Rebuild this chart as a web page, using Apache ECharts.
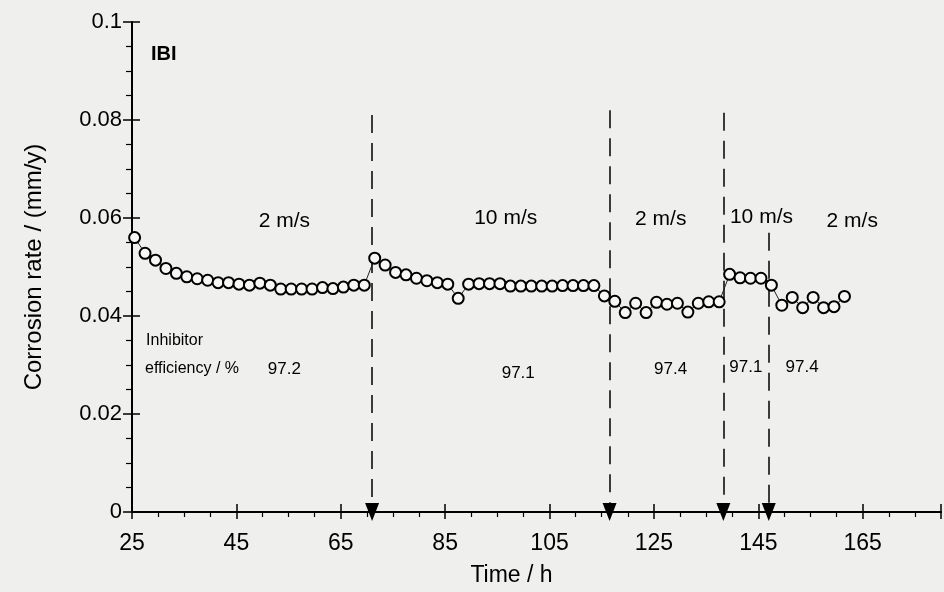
<!DOCTYPE html>
<html>
<head>
<meta charset="utf-8">
<script src="https://cdn.jsdelivr.net/npm/echarts@6/dist/echarts.min.js"></script>
<style>
html,body{margin:0;padding:0;background:#efefed;}
#chart{width:944px;height:592px;}
</style>
</head>
<body>
<div id="chart"></div>
<script>
// ---- data ----
var timeH = [25.5,27.5,29.5,31.5,33.5,35.5,37.5,39.5,41.5,43.5,45.5,47.5,49.5,51.5,53.5,55.5,57.5,59.5,61.5,63.5,65.5,67.5,69.5,
  71.5,73.5,75.5,77.5,79.5,81.5,83.5,85.5,87.5,89.5,91.5,93.5,95.5,97.5,99.5,101.5,103.5,105.5,107.5,109.5,111.5,113.5,115.5,117.5,119.5,
  121.5,123.5,125.5,127.5,129.5,131.5,133.5,135.5,137.5,139.5,141.5,143.5,145.5,147.5,149.5,151.5,153.5,155.5,157.5,159.5,161.5];
var corrosionRate = [0.0560,0.0528,0.0514,0.0497,0.0487,0.0480,0.0476,0.0473,0.0468,0.0468,0.0465,0.0463,0.0467,0.0463,0.0455,0.0455,0.0455,0.0455,0.0458,0.0456,0.0459,0.0463,0.0463,
  0.0518,0.0504,0.0489,0.0484,0.0477,0.0472,0.0468,0.0465,0.0436,0.0465,0.0466,0.0466,0.0466,0.0461,0.0461,0.0461,0.0461,0.0461,0.0462,0.0462,0.0462,0.0462,0.0441,0.0430,0.0407,
  0.0426,0.0407,0.0428,0.0424,0.0426,0.0408,0.0426,0.0429,0.0429,0.0485,0.0478,0.0477,0.0477,0.0463,0.0422,0.0438,0.0417,0.0438,0.0417,0.0419,0.0440];

// flow-velocity changes (h) and the top of each dashed marker line
var changeTimes = [71, 116.5, 138.3, 147];
var changeTops = [0.081, 0.082, 0.0815, 0.057];

// period labels
var speedLabels = ['2 m/s', '10 m/s', '2 m/s', '10 m/s', '2 m/s'];
var speedLabelT = [54.2, 96.6, 126.3, 145.6, 163];
var speedLabelV = [0.0593, 0.0599, 0.0597, 0.0601, 0.0593];

var efficiencyLabels = ['97.2', '97.1', '97.4', '97.1', '97.4'];
var efficiencyT = [54.2, 99.0, 128.2, 142.6, 153.4];
var efficiencyV = [0.0292, 0.0283, 0.0292, 0.0296, 0.0296];

var xTicks = [25, 45, 65, 85, 105, 125, 145, 165];
var yTicks = [0, 0.02, 0.04, 0.06, 0.08, 0.1];

// ---- chart ----
var FONT = '"Liberation Sans", Arial, Helvetica, sans-serif';
var chart = echarts.init(document.getElementById('chart'));

var points = timeH.map(function (t, i) { return [t, corrosionRate[i]]; });

var markLines = changeTimes.map(function (t, i) {
  return [{ coord: [t, changeTops[i]], symbol: 'none' }, { coord: [t, 0], symbol: 'triangle' }];
});

var annot = [];
speedLabels.forEach(function (s, i) {
  annot.push({ name: s, value: [speedLabelT[i], speedLabelV[i]],
    label: { fontSize: 21 } });
});
efficiencyLabels.forEach(function (s, i) {
  annot.push({ name: s, value: [efficiencyT[i], efficiencyV[i]],
    label: { fontSize: 17 } });
});
annot.push({ name: 'Inhibitor', value: [27.7, 0.0350], label: { fontSize: 16, align: 'left' } });
annot.push({ name: 'efficiency / %', value: [27.5, 0.0292], label: { fontSize: 16, align: 'left' } });
annot.push({ name: 'IBI', value: [31.1, 0.0934], label: { fontSize: 20, fontWeight: 'bold' } });

chart.setOption({
  animation: false,
  backgroundColor: '#efefed',
  grid: { left: 132, right: 0, top: 22, bottom: 79, show: false },
  xAxis: [{
    type: 'value', min: 25, max: 180, interval: 20,
    name: 'Time / h', nameLocation: 'middle', nameGap: 52,
    nameTextStyle: { fontFamily: FONT, fontSize: 23, color: '#000', padding: [0, 50, 0, 0] },
    axisLine: { show: true, onZero: false, lineStyle: { color: '#000', width: 2 } },
    axisTick: { show: true, inside: false, length: 7, lineStyle: { color: '#000', width: 1.5 } },
    minorTick: { show: true, splitNumber: 4, length: 5, lineStyle: { color: '#000', width: 1.2 } },
    axisLabel: { fontFamily: FONT, fontSize: 23, color: '#000', margin: 20,
      formatter: function (v) { return xTicks.indexOf(v) >= 0 ? String(v) : ''; } },
    splitLine: { show: false }
  }, {
    type: 'value', min: 25, max: 180, interval: 20, position: 'bottom',
    axisLine: { show: false },
    axisTick: { show: true, inside: true, length: 8, lineStyle: { color: '#000', width: 1.5 } },
    axisLabel: { show: false }, splitLine: { show: false }
  }, {
    type: 'value', min: 25, max: 180, position: 'top',
    axisLine: { show: true, lineStyle: { color: '#000', width: 2 } },
    axisTick: { show: false }, axisLabel: { show: false }, splitLine: { show: false }
  }],
  yAxis: [{
    type: 'value', min: 0, max: 0.1, interval: 0.02,
    name: 'Corrosion rate / (mm/y)', nameLocation: 'middle', nameGap: 86,
    nameTextStyle: { fontFamily: FONT, fontSize: 24, color: '#000' },
    axisLine: { show: true, onZero: false, lineStyle: { color: '#000', width: 2 } },
    axisTick: { show: true, inside: false, length: 9, lineStyle: { color: '#000', width: 1.5 } },
    minorTick: { show: true, splitNumber: 4, length: 6, lineStyle: { color: '#000', width: 1.2 } },
    axisLabel: { fontFamily: FONT, fontSize: 22, color: '#000', margin: 10,
      formatter: function (v) { return String(+v.toFixed(2)); } },
    splitLine: { show: false }
  }, {
    type: 'value', min: 0, max: 0.1, interval: 0.02, position: 'left',
    axisLine: { show: false },
    axisTick: { show: true, inside: true, length: 8, lineStyle: { color: '#000', width: 1.5 } },
    axisLabel: { show: false }, splitLine: { show: false }
  }],
  series: [{
    type: 'line',
    data: points,
    symbol: 'circle', symbolSize: 11,
    itemStyle: { color: '#f7f7f5', borderColor: '#000', borderWidth: 2 },
    lineStyle: { color: '#222', width: 1 },
    z: 5,
    markLine: {
      silent: true,
      symbolSize: [14, 18],
      label: { show: false },
      lineStyle: { color: '#000', width: 1.5, type: [18, 10] },
      data: markLines
    }
  }, {
    type: 'scatter',
    data: annot,
    symbolSize: 0,
    itemStyle: { color: '#efefed', opacity: 1 },
    silent: true,
    label: {
      show: true, position: 'inside', color: '#000', opacity: 1, fontFamily: FONT,
      formatter: function (p) { return p.name; }
    },
    z: 10
  }]
});
</script>
</body>
</html>
